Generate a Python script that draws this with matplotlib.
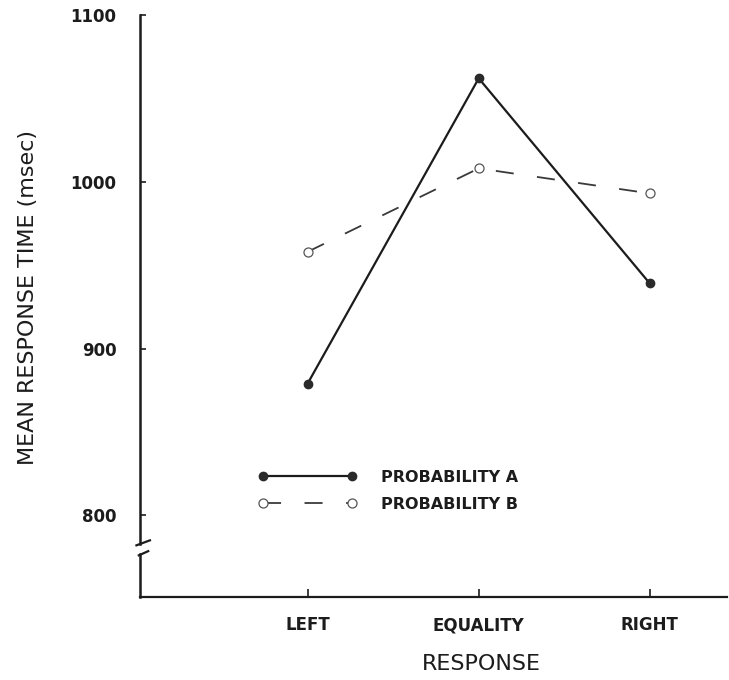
import matplotlib
matplotlib.use('Agg')
import matplotlib.pyplot as plt

responses = ['LEFT', 'EQUALITY', 'RIGHT']
prob_a = [879, 1062, 939]
prob_b = [958, 1008, 993]
yticks = [800, 900, 1000, 1100]

ink = '#1c1c1c'

fig = plt.figure(figsize=(7.29, 6.8), dpi=100)
ax = fig.add_axes([0.192, 0.122, 0.805, 0.856])

x = list(range(len(responses)))
ax.plot(x, prob_a, color=ink, lw=1.6, marker='o', ms=6, mfc='#2a2a2a', mec='#2a2a2a',
        label='PROBABILITY A')
ax.plot(x, prob_b, color='#3a3a3a', lw=1.3, ls=(0, (10, 13)), marker='o', ms=6.5,
        mfc='white', mec='#555555', mew=0.9, label='PROBABILITY B')

ax.set_xlim(-0.98, 2.45)
ax.set_ylim(751, 1100)

# axes: no box, left spine redrawn by hand with a break near the bottom
for s in ['top', 'right', 'left']:
    ax.spines[s].set_visible(False)
ax.spines['bottom'].set_linewidth(1.6)
ax.spines['bottom'].set_color(ink)

tr = ax.get_yaxis_transform()
ax.plot([0, 0], [1100, 783], color=ink, lw=1.8, transform=tr, clip_on=False)
ax.plot([0, 0], [777, 751], color=ink, lw=1.8, transform=tr, clip_on=False)
ax.plot([-0.006, 0.017], [782, 785], color=ink, lw=1.6, transform=tr, clip_on=False)
ax.plot([-0.002, 0.014], [776, 778.5], color=ink, lw=1.6, transform=tr, clip_on=False)

ax.set_yticks(yticks)
ax.set_yticklabels([str(v) for v in yticks], fontweight='bold', fontsize=12, color=ink)
ax.tick_params(axis='y', direction='in', length=4, width=1.2, pad=17, color=ink)

ax.set_xticks(x)
ax.set_xticklabels(responses, fontweight='bold', fontsize=12, color=ink)
ax.tick_params(axis='x', direction='in', length=6, width=1.2, pad=14, color=ink)

ax.set_xlabel('RESPONSE', fontsize=16, color=ink)
ax.xaxis.set_label_coords(0.581, -0.098)
ax.set_ylabel('MEAN RESPONSE TIME (msec)', fontsize=16, color=ink, va='center')
ax.yaxis.set_label_coords(-0.191, 0.514)

leg = ax.legend(loc='upper left', bbox_to_anchor=(250 / 729, 1 - 462 / 680),
                bbox_transform=fig.transFigure, frameon=False, numpoints=2,
                borderpad=0, handlelength=6.2, handletextpad=1.5, labelspacing=0.75,
                prop={'weight': 'bold', 'size': 11.5})
for t in leg.get_texts():
    t.set_color(ink)

fig.savefig('out.png', dpi=100, facecolor='white')
